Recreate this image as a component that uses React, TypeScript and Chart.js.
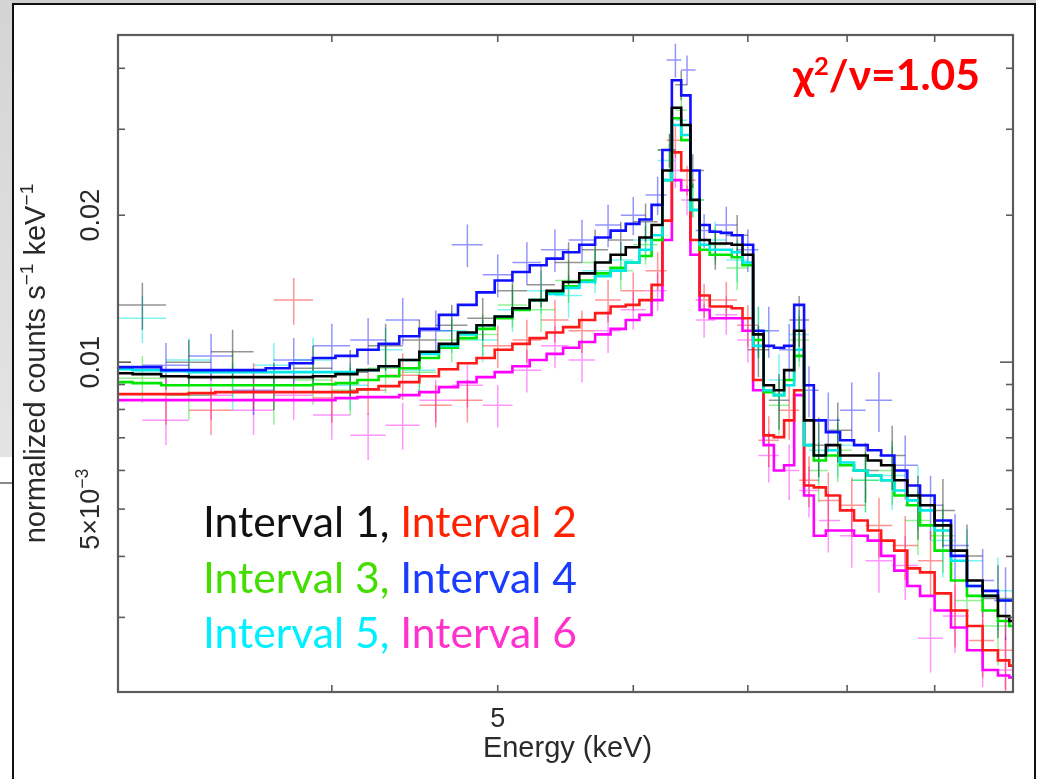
import React, { useEffect, useRef } from "react";
import { Chart, registerables } from "chart.js";

Chart.register(...registerables);

// ---------- DATA ----------
const seriesNames = ["Interval 1", "Interval 2", "Interval 3", "Interval 4", "Interval 5", "Interval 6"];

// model energy grid (keV, bin centres)
const modelEnergies = [3.0, 3.12, 3.24, 3.36, 3.48, 3.6, 3.72, 3.84, 3.96, 4.08, 4.2, 4.32, 4.44, 4.56, 4.68, 4.8, 4.92, 5.04, 5.16, 5.28, 5.4, 5.52, 5.64, 5.76, 5.88, 6.0, 6.1, 6.2, 6.28, 6.36, 6.44, 6.52, 6.6, 6.7, 6.8, 6.9, 7.0, 7.1, 7.2, 7.3, 7.4, 7.5, 7.6, 7.7, 7.85, 8.0, 8.15, 8.3, 8.45, 8.6, 8.75, 8.9, 9.1, 9.3, 9.5, 9.7, 9.9, 10.0];

const modelI1 = [0.00949, 0.00945, 0.00936, 0.00932, 0.00932, 0.00932, 0.00932, 0.00932, 0.00936, 0.00945, 0.00963, 0.00981, 0.0101, 0.0105, 0.0109, 0.0115, 0.0119, 0.0124, 0.0129, 0.0134, 0.0140, 0.0146, 0.0152, 0.0160, 0.0166, 0.0172, 0.0180, 0.0191, 0.0247, 0.0332, 0.0306, 0.0215, 0.0178, 0.0175, 0.0175, 0.0174, 0.0166, 0.0114, 0.00897, 0.00876, 0.00963, 0.0116, 0.00760, 0.00644, 0.00676, 0.00644, 0.00644, 0.00629, 0.00615, 0.00573, 0.00533, 0.00509, 0.00463, 0.00411, 0.00357, 0.00332, 0.00302, 0.00295];
const modelI2 = [0.00860, 0.00860, 0.00860, 0.00864, 0.00868, 0.00868, 0.00868, 0.00868, 0.00868, 0.00868, 0.00880, 0.00893, 0.00910, 0.00936, 0.00967, 0.00995, 0.0102, 0.0106, 0.0109, 0.0112, 0.0115, 0.0118, 0.0122, 0.0126, 0.0130, 0.0131, 0.0134, 0.0144, 0.0195, 0.0269, 0.0247, 0.0178, 0.0137, 0.0130, 0.0130, 0.0129, 0.0123, 0.00919, 0.00708, 0.00702, 0.00760, 0.00876, 0.00559, 0.00554, 0.00533, 0.00497, 0.00474, 0.00452, 0.00431, 0.00411, 0.00378, 0.00371, 0.00336, 0.00310, 0.00288, 0.00257, 0.00245, 0.00239];
const modelI3 = [0.00910, 0.00906, 0.00897, 0.00897, 0.00897, 0.00897, 0.00897, 0.00897, 0.00901, 0.00906, 0.00919, 0.00936, 0.00972, 0.0102, 0.0107, 0.0112, 0.0117, 0.0123, 0.0128, 0.0134, 0.0139, 0.0143, 0.0147, 0.0152, 0.0156, 0.0160, 0.0165, 0.0178, 0.0236, 0.0316, 0.0285, 0.0205, 0.0170, 0.0166, 0.0166, 0.0164, 0.0158, 0.0111, 0.00868, 0.00856, 0.00919, 0.0103, 0.00676, 0.00629, 0.00644, 0.00615, 0.00600, 0.00586, 0.00573, 0.00533, 0.00509, 0.00463, 0.00411, 0.00357, 0.00332, 0.00310, 0.00295, 0.00288];
const modelI4 = [0.00977, 0.00977, 0.00963, 0.00963, 0.00963, 0.00963, 0.00972, 0.00995, 0.0102, 0.0103, 0.0106, 0.0109, 0.0113, 0.0117, 0.0125, 0.0131, 0.0139, 0.0147, 0.0153, 0.0158, 0.0163, 0.0168, 0.0174, 0.0180, 0.0186, 0.0192, 0.0196, 0.0210, 0.0272, 0.0378, 0.0352, 0.0247, 0.0191, 0.0185, 0.0184, 0.0182, 0.0174, 0.0116, 0.0108, 0.0107, 0.0108, 0.0131, 0.00897, 0.00760, 0.00719, 0.00692, 0.00676, 0.00660, 0.00644, 0.00600, 0.00559, 0.00533, 0.00474, 0.00401, 0.00348, 0.00340, 0.00325, 0.00325];
const modelI5 = [0.00967, 0.00963, 0.00958, 0.00954, 0.00954, 0.00954, 0.00954, 0.00954, 0.00954, 0.00954, 0.00963, 0.00981, 0.0101, 0.0104, 0.0108, 0.0114, 0.0119, 0.0124, 0.0129, 0.0134, 0.0138, 0.0142, 0.0146, 0.0150, 0.0154, 0.0160, 0.0170, 0.0182, 0.0236, 0.0306, 0.0292, 0.0205, 0.0174, 0.0170, 0.0170, 0.0168, 0.0160, 0.0108, 0.00876, 0.00856, 0.00897, 0.0106, 0.00676, 0.00644, 0.00660, 0.00623, 0.00600, 0.00586, 0.00573, 0.00546, 0.00521, 0.00497, 0.00452, 0.00392, 0.00348, 0.00332, 0.00325, 0.00325];
const modelI6 = [0.00836, 0.00836, 0.00836, 0.00836, 0.00836, 0.00836, 0.00836, 0.00836, 0.00836, 0.00844, 0.00848, 0.00848, 0.00856, 0.00868, 0.00889, 0.00910, 0.00932, 0.00954, 0.00981, 0.0101, 0.0104, 0.0107, 0.0110, 0.0114, 0.0117, 0.0122, 0.0125, 0.0134, 0.0178, 0.0236, 0.0225, 0.0166, 0.0128, 0.0123, 0.0123, 0.0123, 0.0116, 0.00876, 0.00676, 0.00600, 0.00615, 0.00856, 0.00533, 0.00441, 0.00452, 0.00452, 0.00441, 0.00431, 0.00401, 0.00374, 0.00348, 0.00332, 0.00310, 0.00286, 0.00257, 0.00234, 0.00228, 0.00226];

// data (crosses): two binnings
const dataEnergiesA = [3.1, 3.3, 3.5, 3.7, 3.9, 4.1, 4.3, 4.5, 4.7, 4.9, 5.1, 5.3, 5.5, 5.7, 5.9, 6.1, 6.3, 6.4, 6.5, 6.7, 6.9, 7.1, 7.3, 7.5, 7.7, 7.9, 8.2, 8.5, 8.8, 9.1, 9.4, 9.8];
const dataEnergiesB = [3.2, 3.4, 3.6, 3.8, 4.0, 4.2, 4.4, 4.6, 4.8, 5.0, 5.2, 5.4, 5.6, 5.8, 6.0, 6.2, 6.35, 6.45, 6.6, 6.8, 7.0, 7.2, 7.4, 7.6, 7.8, 8.05, 8.35, 8.65, 8.95, 9.25, 9.6, 9.9];
const relErrA = [0.11, 0.11, 0.11, 0.11, 0.11, 0.11, 0.11, 0.10, 0.10, 0.10, 0.10, 0.10, 0.10, 0.10, 0.09, 0.09, 0.08, 0.07, 0.08, 0.09, 0.10, 0.12, 0.13, 0.12, 0.14, 0.14, 0.14, 0.15, 0.15, 0.16, 0.16, 0.17];
const relErrB = [0.11, 0.11, 0.11, 0.11, 0.11, 0.11, 0.11, 0.10, 0.10, 0.10, 0.10, 0.10, 0.10, 0.10, 0.09, 0.09, 0.08, 0.07, 0.08, 0.09, 0.10, 0.12, 0.13, 0.12, 0.14, 0.14, 0.14, 0.15, 0.15, 0.16, 0.16, 0.17];

const dataI1 = [0.0131, 0.0100, 0.0105, 0.00897, 0.00972, 0.00954, 0.0108, 0.0111, 0.0119, 0.0123, 0.0140, 0.0144, 0.0160, 0.0170, 0.0178, 0.0194, 0.0272, 0.0370, 0.0247, 0.0170, 0.0182, 0.0106, 0.00836, 0.0122, 0.00676, 0.00725, 0.00600, 0.00644, 0.00509, 0.00497, 0.00401, 0.00328];
const dataI3 = [0.00927, 0.00856, 0.00954, 0.00836, 0.00919, 0.00876, 0.00972, 0.00954, 0.0111, 0.0114, 0.0131, 0.0128, 0.0147, 0.0160, 0.0154, 0.0174, 0.0272, 0.0328, 0.0215, 0.0174, 0.0156, 0.0116, 0.00816, 0.0111, 0.00600, 0.00660, 0.00573, 0.00600, 0.00474, 0.00441, 0.00325, 0.00288];
const dataI5 = [0.0123, 0.0101, 0.00897, 0.00986, 0.0101, 0.00897, 0.0106, 0.00963, 0.0116, 0.0111, 0.0128, 0.0140, 0.0137, 0.0154, 0.0162, 0.0178, 0.0259, 0.0313, 0.0215, 0.0178, 0.0162, 0.0116, 0.00919, 0.0114, 0.00660, 0.00676, 0.00573, 0.00586, 0.00533, 0.00431, 0.00392, 0.00340];
const dataI2 = [0.00836, 0.00797, 0.00897, 0.0134, 0.00844, 0.00876, 0.00940, 0.00816, 0.00836, 0.0108, 0.0111, 0.0122, 0.0116, 0.0134, 0.0140, 0.0154, 0.0285, 0.0236, 0.0134, 0.0134, 0.0119, 0.00692, 0.00797, 0.00573, 0.00521, 0.00509, 0.00463, 0.00421, 0.00392, 0.00310, 0.00269, 0.00257];
const dataI4 = [0.00986, 0.0103, 0.00876, 0.0101, 0.0108, 0.0111, 0.0122, 0.0116, 0.0174, 0.0151, 0.0160, 0.0170, 0.0178, 0.0191, 0.0200, 0.0220, 0.0416, 0.0397, 0.0186, 0.0191, 0.0170, 0.0116, 0.0106, 0.00876, 0.00760, 0.00797, 0.00836, 0.00615, 0.00509, 0.00421, 0.00357, 0.00325];
const dataI6 = [0.00760, 0.00856, 0.00797, 0.00856, 0.00779, 0.00708, 0.00743, 0.00836, 0.00897, 0.00816, 0.00963, 0.0108, 0.0101, 0.0116, 0.0128, 0.0140, 0.0247, 0.0215, 0.0122, 0.0125, 0.0111, 0.00644, 0.00600, 0.00546, 0.00474, 0.00441, 0.00392, 0.00383, 0.00272, 0.00302, 0.00257, 0.00234];

// axes
const xRange = [3, 10];
const yRange = [0.00211, 0.0468];
const xTickValues = [4, 5, 6, 7, 8, 9];
const xLabelValues = [5];
const xLabelTexts = ["5"];
const yMinorTickValues = [0.003, 0.004, 0.005, 0.006, 0.007, 0.008, 0.009, 0.02, 0.03, 0.04];
const yMajorTickValues = [0.01];
const yLabelValues = [0.02, 0.01, 0.005];
const yLabelBases = ["0.02", "0.01", "5×10"];
const yLabelSups = ["", "", "−3"];
const xTitle = "Energy (keV)";
const statText = ["χ", "2", "/ν=1.05"];

// ---------- STYLE ----------
const modelColors = ["#000000", "#ff1a1a", "#00e600", "#1010ff", "#00e8e8", "#ff00ff"];
const crossColors = ["rgba(0,0,0,0.42)", "rgba(255,0,0,0.42)", "rgba(0,220,0,0.42)", "rgba(0,0,255,0.42)", "rgba(0,230,230,0.5)", "rgba(255,0,255,0.42)"];
const legendColors = ["#111111", "#ff2200", "#44dd00", "#1a3cff", "#00f0ff", "#ff33cc"];
const AXIS_FONT = '"Liberation Sans", Arial, Helvetica, sans-serif';
const SLIDE_FONT = 'Lato, "Open Sans", sans-serif';

type Pt = { x: number; y: number | null };

function crossPoints(E: number[], V: number[], rel: number[]): Pt[] {
  const pts: Pt[] = [];
  for (let i = 0; i < E.length; i++) {
    const lo = i > 0 ? (E[i] + E[i - 1]) / 2 : E[i] - (E[i + 1] - E[i]) / 2;
    const hi = i < E.length - 1 ? (E[i] + E[i + 1]) / 2 : E[i] + (E[i] - E[i - 1]) / 2;
    pts.push({ x: lo, y: V[i] }, { x: hi, y: V[i] }, { x: E[i], y: null });
    pts.push({ x: E[i], y: V[i] * (1 - rel[i]) }, { x: E[i], y: V[i] * (1 + rel[i]) }, { x: E[i], y: null });
  }
  return pts;
}

function modelPoints(E: number[], V: number[]): Pt[] {
  return E.map((e, i) => ({ x: e, y: V[i] }));
}

function drawRotatedLabel(ctx: CanvasRenderingContext2D, x: number, cy: number, base: string, sup: string, size: number, color: string) {
  ctx.save();
  ctx.translate(x, cy);
  ctx.rotate(-Math.PI / 2);
  ctx.fillStyle = color;
  ctx.textAlign = "left";
  ctx.textBaseline = "alphabetic";
  const supSize = size * 0.66;
  ctx.font = `${size}px ${AXIS_FONT}`;
  const wb = ctx.measureText(base).width;
  ctx.font = `${supSize}px ${AXIS_FONT}`;
  const ws = sup ? ctx.measureText(sup).width : 0;
  let cx = -(wb + ws) / 2;
  ctx.font = `${size}px ${AXIS_FONT}`;
  ctx.fillText(base, cx, 0);
  cx += wb;
  if (sup) {
    ctx.font = `${supSize}px ${AXIS_FONT}`;
    ctx.fillText(sup, cx, -size * 0.42);
  }
  ctx.restore();
}

function drawRotatedParts(ctx: CanvasRenderingContext2D, x: number, cy: number, parts: { t: string; sup: boolean }[], size: number, color: string) {
  ctx.save();
  ctx.translate(x, cy);
  ctx.rotate(-Math.PI / 2);
  ctx.fillStyle = color;
  ctx.textAlign = "left";
  ctx.textBaseline = "alphabetic";
  const supSize = size * 0.66;
  const widths = parts.map((p) => {
    ctx.font = `${p.sup ? supSize : size}px ${AXIS_FONT}`;
    return ctx.measureText(p.t).width;
  });
  const total = widths.reduce((a, b) => a + b, 0);
  let cx = -total / 2;
  parts.forEach((p, i) => {
    ctx.font = `${p.sup ? supSize : size}px ${AXIS_FONT}`;
    ctx.fillText(p.t, cx, p.sup ? -size * 0.42 : 0);
    cx += widths[i];
  });
  ctx.restore();
}

const framePlugin = {
  id: "xspecFrame",
  afterDatasetsDraw(chart: any) {
    const { ctx, chartArea: a, scales } = chart;
    const xs = scales.x;
    const ys = scales.y;
    ctx.save();
    ctx.strokeStyle = "#5c5c5c";
    ctx.lineWidth = 1.6;
    const seg = (x1: number, y1: number, x2: number, y2: number) => {
      ctx.beginPath();
      ctx.moveTo(x1, y1);
      ctx.lineTo(x2, y2);
      ctx.stroke();
    };
    xTickValues.forEach((v) => {
      const px = xs.getPixelForValue(v);
      seg(px, a.bottom, px, a.bottom - 7);
      seg(px, a.top, px, a.top + 7);
    });
    yMinorTickValues.forEach((v) => {
      const py = ys.getPixelForValue(v);
      seg(a.left, py, a.left + 7, py);
      seg(a.right, py, a.right - 7, py);
    });
    yMajorTickValues.forEach((v) => {
      const py = ys.getPixelForValue(v);
      seg(a.left, py, a.left + 13, py);
      seg(a.right, py, a.right - 13, py);
    });
    ctx.lineWidth = 2.2;
    ctx.strokeRect(a.left, a.top, a.right - a.left, a.bottom - a.top);
    ctx.restore();
  },
  afterDraw(chart: any) {
    const { ctx, chartArea: a, scales } = chart;
    const xs = scales.x;
    const ys = scales.y;
    ctx.save();
    const txt = "#2a2a2a";
    ctx.fillStyle = txt;
    ctx.font = `27px ${AXIS_FONT}`;
    ctx.textAlign = "center";
    ctx.textBaseline = "alphabetic";
    xLabelValues.forEach((v, i) => {
      ctx.fillText(xLabelTexts[i], xs.getPixelForValue(v), a.bottom + 35);
    });
    ctx.font = `29px ${AXIS_FONT}`;
    ctx.fillText(xTitle, (a.left + a.right) / 2 + 2, a.bottom + 65);
    yLabelValues.forEach((v, i) => {
      drawRotatedLabel(ctx, 99, ys.getPixelForValue(v), yLabelBases[i], yLabelSups[i], 27, txt);
    });
    drawRotatedParts(
      ctx,
      45,
      (a.top + a.bottom) / 2,
      [
        { t: "normalized counts s", sup: false },
        { t: "−1", sup: true },
        { t: " keV", sup: false },
        { t: "−1", sup: true },
      ],
      29,
      txt
    );

    const line1 = [seriesNames[0] + ", ", seriesNames[1]];
    const line2 = [seriesNames[2] + ", ", seriesNames[3]];
    const line3 = [seriesNames[4] + ", ", seriesNames[5]];
    ctx.textAlign = "left";
    ctx.font = `100px ${SLIDE_FONT}`;
    const w100 = ctx.measureText(line1.join("")).width;
    const lsize = (100 * 374) / w100;
    ctx.font = `${lsize}px ${SLIDE_FONT}`;
    const lines = [line1, line2, line3];
    const baselines = [537, 593, 648];
    lines.forEach((ln, li) => {
      let x = 203;
      ln.forEach((t, k) => {
        ctx.fillStyle = legendColors[li * 2 + k];
        ctx.fillText(t, x, baselines[li]);
        x += ctx.measureText(t).width;
      });
    });

    const bold = (s: number) => `bold ${s}px ${SLIDE_FONT}`;
    ctx.font = bold(100);
    const wa = ctx.measureText(statText[0]).width;
    const wc = ctx.measureText(statText[2]).width;
    ctx.font = bold(60);
    const wbSup = ctx.measureText(statText[1]).width;
    const scale = 187 / (wa + wc + wbSup);
    const s = 100 * scale;
    let x = 980 - 187;
    ctx.fillStyle = "#ff0000";
    ctx.font = bold(s);
    ctx.fillText(statText[0], x, 90);
    x += wa * scale;
    ctx.font = bold(s * 0.6);
    ctx.fillText(statText[1], x, 90 - s * 0.36);
    x += wbSup * scale;
    ctx.font = bold(s);
    ctx.fillText(statText[2], x, 90);
    ctx.restore();
  },
};

export default function App() {
  const ref = useRef<HTMLCanvasElement>(null);

  useEffect(() => {
    const models = [modelI1, modelI2, modelI3, modelI4, modelI5, modelI6];
    const datas = [dataI1, dataI2, dataI3, dataI4, dataI5, dataI6];
    const grids = [dataEnergiesA, dataEnergiesB, dataEnergiesA, dataEnergiesB, dataEnergiesA, dataEnergiesB];
    const errs = [relErrA, relErrB, relErrA, relErrB, relErrA, relErrB];
    const modelOrder = [0, 4, 3, 1, 2, 5];

    const datasets: any[] = [];
    datas.forEach((d, i) => {
      datasets.push({
        label: seriesNames[i] + " data",
        data: crossPoints(grids[i], d, errs[i]),
        borderColor: crossColors[i],
        borderWidth: 1.5,
        pointRadius: 0,
        fill: false,
        spanGaps: false,
        tension: 0,
        order: 10 + i,
      });
    });
    models.forEach((m, i) => {
      datasets.push({
        label: seriesNames[i] + " model",
        data: modelPoints(modelEnergies, m),
        borderColor: modelColors[i],
        borderWidth: 2.6,
        pointRadius: 0,
        fill: false,
        stepped: "middle",
        order: modelOrder[i],
      });
    });

    const chart = new Chart(ref.current as HTMLCanvasElement, {
      type: "line",
      data: { datasets },
      options: {
        animation: false,
        responsive: false,
        maintainAspectRatio: false,
        devicePixelRatio: 1,
        events: [],
        layout: { padding: { left: 118, right: 27, top: 35, bottom: 87 } },
        plugins: { legend: { display: false }, tooltip: { enabled: false }, title: { display: false } },
        scales: {
          x: { type: "logarithmic", min: xRange[0], max: xRange[1], display: false },
          y: { type: "logarithmic", min: yRange[0], max: yRange[1], display: false },
        },
      } as any,
      plugins: [framePlugin as any],
    });
    return () => chart.destroy();
  }, []);

  return (
    <div style={{ position: "absolute", left: 0, top: 0, width: 1040, height: 779, overflow: "hidden", background: "#ffffff" }}>
      <div style={{ position: "absolute", left: 0, top: 0, width: 1036, height: 4, background: "#cfcfcf" }} />
      <div style={{ position: "absolute", left: 0, top: 0, width: 12, height: 457, background: "linear-gradient(#d4d4d4, #e4e4e4)" }} />
      <div style={{ position: "absolute", left: 0, top: 482, width: 12, height: 2, background: "#8a8a8a" }} />
      <div style={{ position: "absolute", left: 12, top: 3, width: 1024, height: 800, boxSizing: "border-box", borderTop: "2px solid #111", borderLeft: "2px solid #111", borderRight: "2px solid #111" }} />
      <canvas ref={ref} width={1040} height={779} style={{ position: "absolute", left: 0, top: 0, width: 1040, height: 779 }} />
    </div>
  );
}
